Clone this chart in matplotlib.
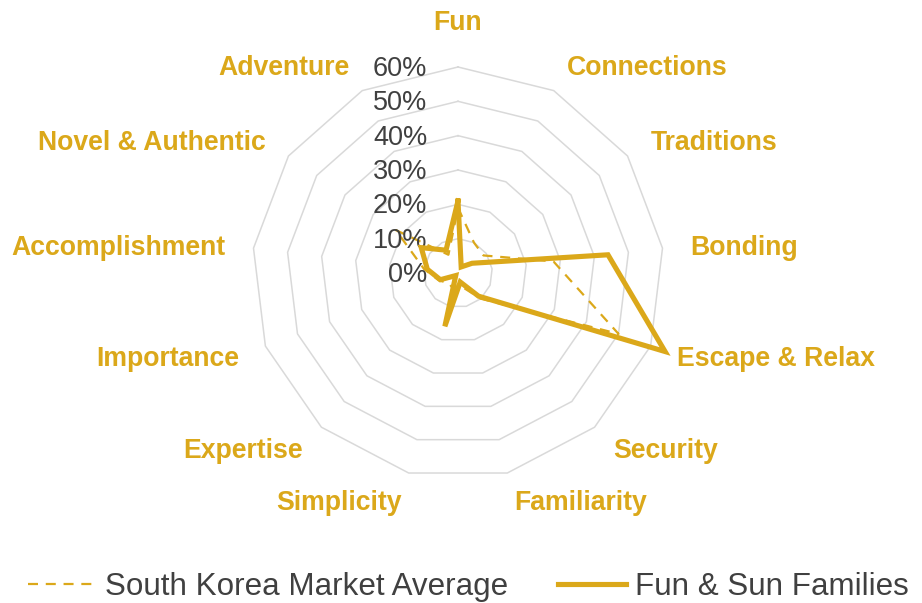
import numpy as np
import matplotlib
matplotlib.use("Agg")
import matplotlib.pyplot as plt

plt.rcParams['font.family'] = ['Liberation Sans', 'DejaVu Sans']

categories = ["Fun", "Connections", "Traditions", "Bonding", "Escape & Relax",
              "Security", "Familiarity", "Simplicity", "Expertise", "Importance",
              "Accomplishment", "Novel & Authentic", "Adventure"]
market_avg = [0.19, 0.10, 0.09, 0.28, 0.50, 0.10, 0.04, 0.05, 0.04, 0.06, 0.10, 0.22, 0.06]
fun_sun = [0.21, 0.02, 0.05, 0.44, 0.645, 0.09, 0.027, 0.16, 0.01, 0.055, 0.09, 0.13, 0.075]
tick_values = [0.0, 0.1, 0.2, 0.3, 0.4, 0.5, 0.6]
tick_labels = ["0%", "10%", "20%", "30%", "40%", "50%", "60%"]
series_names = ["South Korea Market Average", "Fun & Sun Families"]

GOLD = '#DBA81A'
GRID = '#D9D9D9'
TXT = '#404040'

W, H = 922, 603
fig = plt.figure(figsize=(W / 100, H / 100), dpi=100)
cx, cy, R = 458, 273, 206
ax = fig.add_axes([(cx - R) / W, (H - cy - R) / H, 2 * R / W, 2 * R / H], projection='polar')
ax.set_theta_zero_location('N')
ax.set_theta_direction(-1)
ax.set_ylim(0, 0.6)
ax.grid(False)
ax.spines['polar'].set_visible(False)
ax.set_xticks([])
ax.set_yticks([])
ax.patch.set_alpha(0)

n = len(categories)
angles = np.arange(n) * 2 * np.pi / n
closed = np.concatenate([angles, angles[:1]])

for lv in tick_values[1:]:
    ax.plot(closed, [lv] * (n + 1), color=GRID, lw=1.1, zorder=1, clip_on=False)

ma = list(market_avg) + [market_avg[0]]
fs = list(fun_sun) + [fun_sun[0]]
l1, = ax.plot(closed, ma, color=GOLD, lw=1.6, ls=(0, (4.5, 3.5)), zorder=3, clip_on=False,
              label=series_names[0])
l2, = ax.plot(closed, fs, color=GOLD, lw=3.7, zorder=4, clip_on=False, solid_joinstyle='miter',
              label=series_names[1])

for v, t in zip(tick_values, tick_labels):
    ax.annotate(t, xy=(0, v), xytext=(-22, -1.5), textcoords='offset points',
                ha='right', va='center', fontsize=19.5, color=TXT, annotation_clip=False)

rl = 0.682
for a, c in zip(angles, categories):
    s = np.sin(a)
    dy = -2
    if abs(s) < 0.01:
        ha, va = 'center', 'bottom'
        dy = 2
    elif s > 0:
        ha, va = 'left', 'center'
    else:
        ha, va = 'right', 'center'
    ax.annotate(c, xy=(a, rl), xytext=(0, dy), textcoords='offset points',
                ha=ha, va=va, fontsize=19.2, fontweight='bold', color=GOLD,
                annotation_clip=False)

fig.legend(handles=[l1, l2], loc='lower center', bbox_to_anchor=(0.508, -0.045), ncol=2,
           frameon=False, fontsize=22.6, handlelength=2.15, handletextpad=0.3,
           columnspacing=1.6, labelcolor=TXT)

fig.savefig('out.png', dpi=100)
